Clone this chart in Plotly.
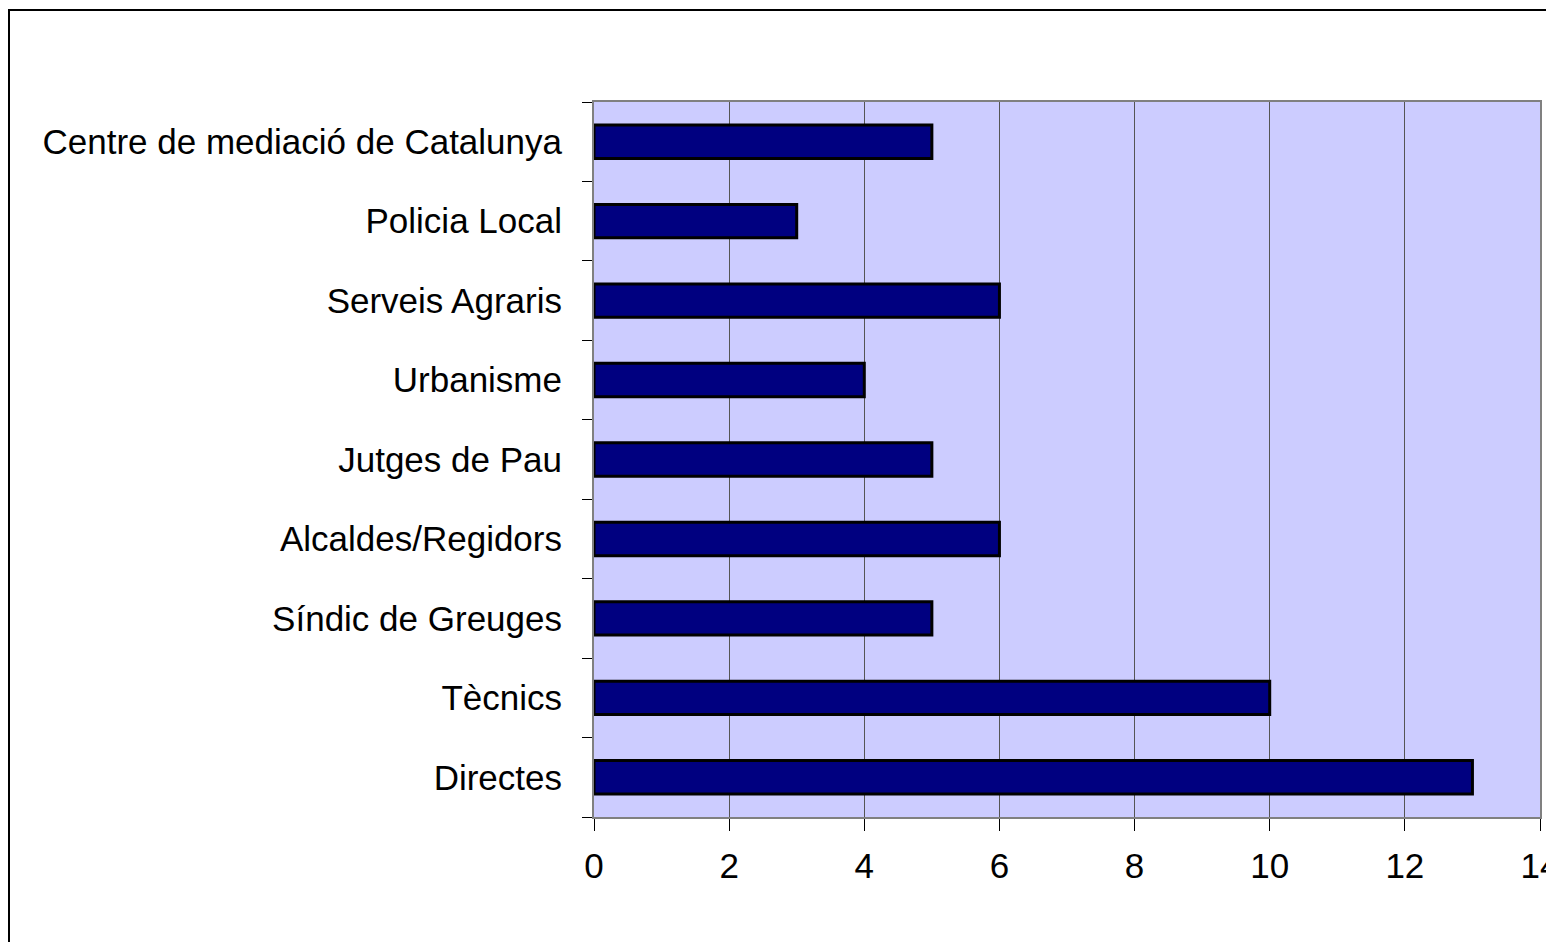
import plotly.graph_objects as go

# categories listed bottom to top, as drawn
categories = ["Directes", "Tècnics", "Síndic de Greuges", "Alcaldes/Regidors",
              "Jutges de Pau", "Urbanisme", "Serveis Agraris", "Policia Local",
              "Centre de mediació de Catalunya"]
values = [13, 10, 5, 6, 5, 4, 6, 3, 5]
x_ticks = [0, 2, 4, 6, 8, 10, 12, 14]

W, H = 1554, 942
# the page body adds an 8px offset, margins are set to compensate
ml, mr, mt, mb = 586, 22, 94, 133

fig = go.Figure(
    [go.Bar(y=categories, x=values, orientation='h',
            marker=dict(color='#000080', line=dict(color='black', width=3)))])

pw = W - ml - mr
ph = H - mt - mb

fig.update_layout(
    width=W, height=H,
    margin=dict(l=ml, r=mr, t=mt, b=mb, pad=0),
    paper_bgcolor='white',
    plot_bgcolor='#CCCCFF',
    font=dict(family='Liberation Sans, Arial, sans-serif', size=35, color='black'),
    bargap=0.58,
    showlegend=False,
    xaxis=dict(
        range=[0, 14], tickvals=x_ticks, ticks='outside', ticklen=12,
        tickcolor='black', tickwidth=1, ticklabelstandoff=5,
        showgrid=True, gridcolor='#555555', gridwidth=1,
        showline=True, linecolor='#808080', linewidth=2, mirror=True,
        zeroline=False, automargin=False,
    ),
    yaxis=dict(
        type='category', categoryorder='array', categoryarray=categories,
        ticks='outside', tickson='boundaries', ticklen=10,
        tickcolor='black', tickwidth=1, ticklabelstandoff=23,
        showgrid=False, automargin=False,
        showline=True, linecolor='#808080', linewidth=2, mirror=True,
    ),
    shapes=[dict(
        type='rect', xref='paper', yref='paper',
        x0=(1 - ml) / pw, x1=(W + 20 - ml) / pw,
        y0=-(H + 20 - mt - ph) / ph, y1=1 + (mt - 2) / ph,
        line=dict(color='black', width=2), fillcolor='rgba(0,0,0,0)',
        layer='below',
    )],
)

fig.write_html("out.html")
